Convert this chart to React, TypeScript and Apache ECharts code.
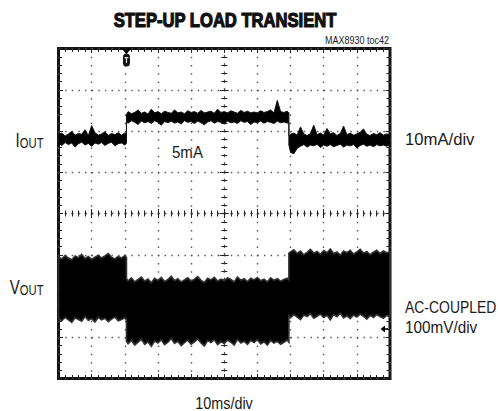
import React, { useEffect, useRef } from 'react';
import * as echarts from 'echarts';

// Time in divisions from the screen centre (10 ms/div), -5..+5
const TIME_1 = [-5, -4.9, -4.8, -4.7, -4.6, -4.5, -4.4, -4.3, -4.2, -4.1, -4, -3.9, -3.8, -3.7, -3.6, -3.5, -3.4, -3.3, -3.2, -3.1, -3, -2.95];
const TIME_2 = [-2.95, -2.9, -2.8, -2.7, -2.6, -2.5, -2.4, -2.3, -2.2, -2.1, -2, -1.9, -1.8, -1.7, -1.6, -1.5, -1.4, -1.3, -1.2, -1.1, -1, -0.9, -0.8, -0.7, -0.6, -0.5, -0.4, -0.3, -0.2, -0.1, 0, 0.1, 0.2, 0.3, 0.4, 0.5, 0.6, 0.7, 0.8, 0.9, 1, 1.1, 1.2, 1.3, 1.4, 1.5, 1.6, 1.7, 1.8, 1.9, 1.95];
const TIME_3 = [1.95, 2, 2.1, 2.2, 2.3, 2.4, 2.5, 2.6, 2.7, 2.8, 2.9, 3, 3.1, 3.2, 3.3, 3.4, 3.5, 3.6, 3.7, 3.8, 3.9, 4, 4.1, 4.2, 4.3, 4.4, 4.5, 4.6, 4.7, 4.8, 4.9, 5];

// IOUT trace envelope (screen divisions from centre line, +up)
const IOUT_HI_1 = [1.91, 1.95, 1.88, 1.93, 1.99, 1.90, 1.94, 1.92, 2.03, 1.89, 2.13, 1.96, 1.90, 1.93, 1.98, 1.89, 1.94, 1.91, 1.96, 1.90, 1.95, 1.93];
const IOUT_LO_1 = [1.70, 1.65, 1.72, 1.67, 1.71, 1.61, 1.69, 1.73, 1.66, 1.70, 1.63, 1.71, 1.68, 1.72, 1.65, 1.70, 1.73, 1.64, 1.69, 1.71, 1.66, 1.70];
const IOUT_HI_2 = [2.40, 2.47, 2.42, 2.45, 2.51, 2.43, 2.46, 2.41, 2.53, 2.44, 2.47, 2.42, 2.48, 2.45, 2.43, 2.51, 2.44, 2.46, 2.42, 2.49, 2.45, 2.47, 2.43, 2.50, 2.44, 2.46, 2.48, 2.43, 2.53, 2.45, 2.47, 2.44, 2.49, 2.46, 2.43, 2.50, 2.45, 2.48, 2.44, 2.46, 2.44, 2.49, 2.45, 2.47, 2.51, 2.44, 2.74, 2.47, 2.45, 2.48, 2.44];
const IOUT_LO_2 = [2.22, 2.19, 2.25, 2.21, 2.16, 2.24, 2.20, 2.23, 2.18, 2.25, 2.21, 2.14, 2.23, 2.20, 2.24, 2.19, 2.22, 2.17, 2.25, 2.21, 2.23, 2.18, 2.24, 2.20, 2.15, 2.22, 2.25, 2.19, 2.23, 2.21, 2.17, 2.24, 2.20, 2.22, 2.18, 2.25, 2.21, 2.23, 2.16, 2.22, 2.20, 2.24, 2.19, 2.23, 2.21, 2.18, 2.24, 2.20, 2.22, 2.19, 2.21];
const IOUT_HI_3 = [1.88, 1.92, 1.95, 1.90, 2.10, 1.93, 1.89, 1.94, 2.14, 1.91, 1.95, 1.90, 2.06, 1.93, 1.96, 1.89, 1.94, 2.12, 1.91, 1.95, 1.90, 1.93, 1.97, 2.05, 1.92, 1.89, 1.94, 1.91, 1.96, 1.90, 1.93, 1.91];
const IOUT_LO_3 = [1.66, 1.48, 1.45, 1.58, 1.63, 1.67, 1.61, 1.66, 1.64, 1.68, 1.60, 1.66, 1.63, 1.67, 1.62, 1.65, 1.68, 1.61, 1.66, 1.64, 1.67, 1.59, 1.65, 1.68, 1.63, 1.66, 1.62, 1.67, 1.64, 1.66, 1.63, 1.67];

// VOUT trace envelope (AC-coupled, screen divisions)
const VOUT_HI_1 = [-1.05, -1.10, -1.02, -1.08, -1.12, -1.03, -1.07, -0.99, -1.09, -1.04, -1.11, -1.06, -1.01, -1.08, -1.03, -0.97, -1.06, -1.10, -1.04, -1.08, -1.02, -1.07];
const VOUT_LO_1 = [-2.55, -2.60, -2.52, -2.58, -2.64, -2.53, -2.57, -2.61, -2.50, -2.59, -2.55, -2.63, -2.52, -2.58, -2.54, -2.62, -2.56, -2.51, -2.60, -2.57, -2.53, -2.58];
const VOUT_HI_2 = [-1.58, -1.63, -1.56, -1.66, -1.60, -1.54, -1.64, -1.59, -1.68, -1.57, -1.62, -1.55, -1.65, -1.60, -1.52, -1.63, -1.58, -1.66, -1.61, -1.56, -1.64, -1.59, -1.53, -1.62, -1.67, -1.57, -1.61, -1.55, -1.64, -1.59, -1.63, -1.56, -1.60, -1.66, -1.54, -1.62, -1.58, -1.65, -1.57, -1.61, -1.55, -1.63, -1.59, -1.66, -1.56, -1.62, -1.58, -1.64, -1.60, -1.57, -1.61];
const VOUT_LO_2 = [-3.10, -3.16, -3.08, -3.19, -3.12, -3.05, -3.17, -3.11, -3.22, -3.09, -3.14, -3.06, -3.18, -3.12, -3.03, -3.15, -3.10, -3.20, -3.13, -3.07, -3.17, -3.11, -3.04, -3.14, -3.21, -3.08, -3.13, -3.06, -3.18, -3.11, -3.15, -3.07, -3.12, -3.19, -3.05, -3.14, -3.10, -3.17, -3.08, -3.13, -3.06, -3.16, -3.11, -3.19, -3.08, -3.14, -3.10, -3.17, -3.12, -3.07, -3.12];
const VOUT_HI_3 = [-0.96, -0.93, -0.88, -0.97, -0.91, -1.00, -0.94, -0.87, -0.96, -0.92, -0.99, -0.90, -0.95, -0.86, -0.97, -0.93, -1.01, -0.91, -0.95, -0.89, -0.98, -0.93, -0.87, -0.96, -0.92, -1.00, -0.94, -0.89, -0.97, -0.91, -0.95, -0.93];
const VOUT_LO_3 = [-2.48, -2.53, -2.45, -2.51, -2.57, -2.46, -2.50, -2.43, -2.54, -2.49, -2.44, -2.52, -2.47, -2.58, -2.45, -2.50, -2.42, -2.53, -2.48, -2.55, -2.46, -2.51, -2.44, -2.49, -2.56, -2.47, -2.52, -2.45, -2.50, -2.54, -2.47, -2.51];

// markers
const TRIGGER_T = -2.95;
const VOUT_GND = -2.8;

const TIME = [...TIME_1, ...TIME_2, ...TIME_3];
const IOUT_HI = [...IOUT_HI_1, ...IOUT_HI_2, ...IOUT_HI_3];
const IOUT_LO = [...IOUT_LO_1, ...IOUT_LO_2, ...IOUT_LO_3];
const VOUT_HI = [...VOUT_HI_1, ...VOUT_HI_2, ...VOUT_HI_3];
const VOUT_LO = [...VOUT_LO_1, ...VOUT_LO_2, ...VOUT_LO_3];

const FONT = "'Liberation Sans', Arial, sans-serif";
const TXT = '#1a1a1a';
const TICK = { color: '#222', width: 1 };
const GRIDDOT = '#555';

function bandSeries(name: string, hi: number[], lo: number[], lw: number, edge: string) {
  return {
    type: 'custom',
    name,
    coordinateSystem: 'cartesian2d',
    xAxisIndex: 0,
    yAxisIndex: 0,
    clip: true,
    z: 5,
    data: TIME.map((t, i) => [t, hi[i], lo[i]]),
    encode: { x: 0, y: [1, 2] },
    renderItem: (params: any, api: any) => {
      if (params.dataIndex !== 0) return null;
      const pts: number[][] = [];
      for (let i = 0; i < TIME.length; i++) pts.push(api.coord([TIME[i], hi[i]]));
      for (let i = TIME.length - 1; i >= 0; i--) pts.push(api.coord([TIME[i], lo[i]]));
      return {
        type: 'polygon',
        shape: { points: pts },
        style: { fill: '#000', stroke: edge, lineWidth: lw },
      };
    },
  };
}

function txt(text: string, x: number, y: number, size: number, align: string, sx: number, extra: any = {}) {
  return {
    type: 'text',
    x,
    y,
    scaleX: sx,
    style: {
      text,
      font: `${size}px ${FONT}`,
      fill: TXT,
      align,
      textAlign: align,
      verticalAlign: 'middle',
      textVerticalAlign: 'middle',
      ...extra,
    },
  };
}

function subLabel(main: string, x: number, y: number) {
  return {
    type: 'text', x, y, scaleX: 0.75,
    style: {
      text: `{a|${main}}{b|OUT}`, align: 'right', textAlign: 'right',
      verticalAlign: 'middle', textVerticalAlign: 'middle', fill: TXT,
      rich: {
        a: { font: `20px ${FONT}`, fill: TXT, verticalAlign: 'bottom' },
        b: { font: `15px ${FONT}`, fill: TXT, verticalAlign: 'bottom' },
      },
    },
  };
}

export default function App() {
  const ref = useRef<HTMLDivElement>(null);
  useEffect(() => {
    const chart = echarts.init(ref.current as HTMLDivElement, null, { renderer: 'svg' });
    const xBase = {
      type: 'value', min: -5, max: 5, interval: 1,
      axisLabel: { show: false }, splitLine: { show: false },
      axisLine: { show: false, onZero: false },
    };
    const yBase = {
      type: 'value', min: -4, max: 4, interval: 1,
      axisLabel: { show: false }, splitLine: { show: false },
      axisLine: { show: false, onZero: false },
    };
    const borderTick = { show: true, inside: true, length: 4.5, lineStyle: TICK };
    const borderMinor = { show: true, splitNumber: 5, length: 3.5, lineStyle: TICK };
    const centerLineX = { color: GRIDDOT, width: 1.3, type: [1.4, 5.23] };
    const centerLineY = { color: GRIDDOT, width: 1.3, type: [1.4, 6.85] };

    const option: any = {
      animation: false,
      backgroundColor: '#fff',
      grid: {
        left: 58.5, top: 48.5, width: 331.5, height: 330,
        show: true, borderColor: '#111', borderWidth: 3, backgroundColor: 'transparent',
      },
      xAxis: [
        { ...xBase, position: 'bottom', axisTick: borderTick, minorTick: borderMinor,
          splitLine: { show: true, lineStyle: { color: GRIDDOT, width: 1.4, type: [1.4, 6.85] } } },
        { ...xBase, position: 'top', axisTick: borderTick, minorTick: borderMinor },
        { ...xBase, position: 'bottom',
          axisLine: { show: true, onZero: true, onZeroAxisIndex: 0, lineStyle: centerLineX },
          axisTick: { show: true, inside: true, length: 4.5, lineStyle: TICK },
          minorTick: { show: true, splitNumber: 5, length: 3, lineStyle: TICK } },
        { ...xBase, position: 'bottom',
          axisLine: { show: false, onZero: true, onZeroAxisIndex: 0 },
          axisTick: { show: true, inside: false, length: 4.5, lineStyle: TICK },
          minorTick: { show: true, splitNumber: 5, length: 3, lineStyle: TICK } },
      ],
      yAxis: [
        { ...yBase, position: 'left', axisTick: borderTick, minorTick: borderMinor,
          splitLine: { show: true, lineStyle: { color: GRIDDOT, width: 1.4, type: [1.4, 5.23] } } },
        { ...yBase, position: 'right', axisTick: borderTick, minorTick: borderMinor },
        { ...yBase, position: 'left',
          axisLine: { show: true, onZero: true, onZeroAxisIndex: 0, lineStyle: centerLineY },
          axisTick: { show: true, inside: true, length: 4.5, lineStyle: TICK },
          minorTick: { show: true, splitNumber: 5, length: 3, lineStyle: TICK } },
        { ...yBase, position: 'left',
          axisLine: { show: false, onZero: true, onZeroAxisIndex: 0 },
          axisTick: { show: true, inside: false, length: 4.5, lineStyle: TICK },
          minorTick: { show: true, splitNumber: 5, length: 3, lineStyle: TICK } },
      ],
      series: [
        bandSeries('IOUT', IOUT_HI, IOUT_LO, 1, '#111'),
        bandSeries('VOUT', VOUT_HI, VOUT_LO, 1.6, '#333'),
        {
          type: 'custom', coordinateSystem: 'cartesian2d', clip: false, z: 10,
          data: [[TRIGGER_T, 4]],
          renderItem: (p: any, api: any) => {
            const c = api.coord([api.value(0), api.value(1)]);
            const x = c[0], y = c[1];
            return {
              type: 'group',
              children: [
                { type: 'polygon', shape: { points: [[x - 5, y], [x + 5, y], [x, y + 5.5]] }, style: { fill: '#000' } },
                { type: 'rect', shape: { x: x - 3.5, y: y + 5, width: 7, height: 13, r: 3.5 }, style: { fill: '#111' } },
                { type: 'rect', shape: { x: x - 2, y: y + 8.5, width: 4, height: 1.3 }, style: { fill: '#ddd' } },
                { type: 'rect', shape: { x: x - 0.6, y: y + 8.5, width: 1.2, height: 6 }, style: { fill: '#ddd' } },
              ],
            };
          },
        },
        {
          type: 'custom', coordinateSystem: 'cartesian2d', clip: false, z: 10,
          data: [[5, VOUT_GND]],
          renderItem: (p: any, api: any) => {
            const c = api.coord([api.value(0), api.value(1)]);
            const x = c[0], y = c[1];
            return {
              type: 'group',
              children: [
                { type: 'polygon', shape: { points: [[x - 9.5, y], [x - 5, y - 3.5], [x - 5, y + 3.5]] }, style: { fill: '#000' } },
                { type: 'line', shape: { x1: x - 5.5, y1: y, x2: x - 2, y2: y }, style: { stroke: '#000', lineWidth: 1.6 } },
              ],
            };
          },
        },
      ],
      graphic: [
        txt('STEP-UP LOAD TRANSIENT', 225, 20, 20, 'center', 0.83, {
          font: `bold 20px ${FONT}`, fill: '#111', stroke: '#111', lineWidth: 1.2,
        }),
        txt('MAX8930 toc42', 389, 40.5, 11, 'right', 0.82),
        subLabel('I', 43.5, 140.5),
        subLabel('V', 43.5, 287),
        txt('10mA/div', 405, 139.5, 17, 'left', 0.98),
        txt('AC-COUPLED', 405, 306.5, 17, 'left', 0.82),
        txt('100mV/div', 405, 327, 17, 'left', 0.9),
        txt('5mA', 172, 152, 16, 'left', 0.94),
        txt('10ms/div', 224, 403.5, 16, 'center', 0.9),
      ],
    };
    chart.setOption(option);
    return () => chart.dispose();
  }, []);
  return (
    <div
      ref={ref}
      style={{ position: 'absolute', left: 0, top: 0, width: 498, height: 411, background: '#fff' }}
    />
  );
}
